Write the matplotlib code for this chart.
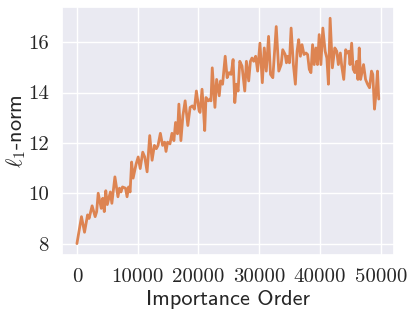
import matplotlib
matplotlib.use("Agg")
import matplotlib.pyplot as plt
import seaborn as sns

# importance order (x) and l1-norm (y)
order = [0, 750, 1250, 1750, 2000, 2500, 3000, 3250, 3500, 4000, 4250, 4500,
         4750, 5000, 5500, 5750, 6250, 6750, 7000, 7250, 7500, 8000, 8250,
         8500, 8750, 9000, 9250, 9750,
         10080, 10410, 10830, 11160, 11550, 11980, 12370, 12750, 13070, 13350,
         13730, 14100, 14430, 14660, 14920, 15310, 15640, 15960, 16230, 16550,
         16780, 17110, 17440, 17810, 18250, 18630, 19000, 19330, 19660, 20100,
         20260, 20590, 20800, 21030, 21240, 21620, 21900, 22060, 22270, 22710,
         22990, 23420, 23640, 23970, 24400, 24720, 25050, 25380, 25700, 25980,
         26260, 26520, 26800, 27170, 27620, 27890, 28270, 28550, 28810, 29090,
         29410, 29740, 30120, 30510, 30830,
         31160, 31540, 31860, 32240, 32800, 33220, 33610, 33870, 34270, 34480,
         34690, 34970, 35250, 35620, 35950, 36230, 36490, 36770, 37040, 37370,
         37700, 37960, 38240, 38510, 38780, 39050, 39330, 39590, 39870, 40150,
         40470, 40850, 41130, 41390, 41670,
         42040, 42440, 42760, 43020, 43350, 43580, 43910, 44230, 44490, 44770,
         44940, 45210, 45470, 45750, 46030, 46240, 46460, 46680, 46950, 47170,
         47500, 47830, 48150, 48480, 48690, 48970, 49230, 49460, 49670]

l1_norm = [8.0, 9.07, 8.45, 9.14, 9.0, 9.5, 9.07, 9.27, 10.0, 9.4, 9.8, 9.27,
           10.1, 9.55, 10.05, 9.6, 10.65, 9.86, 10.2, 10.05, 10.25, 10.2, 9.86,
           10.25, 10.05, 11.24, 10.6, 11.17,
           11.44, 10.98, 11.63, 11.44, 10.85, 12.29, 11.31, 11.9, 11.77, 11.9,
           12.38, 11.9, 12.03, 11.66, 12.03, 11.96, 12.38, 12.09, 12.81, 12.36,
           13.54, 12.09, 13.08, 13.67, 12.69, 13.41, 13.47, 13.34, 14.06, 13.28,
           13.21, 14.13, 13.41, 12.49, 13.8, 13.67, 13.74, 13.67, 14.98, 13.41,
           14.52, 13.87, 14.46, 14.33, 15.44, 14.59, 14.79, 14.72, 15.31, 13.6,
           14.33, 14.06, 15.24, 15.05, 14.06, 15.24, 14.46, 15.24, 15.37, 15.24,
           15.44, 14.85, 15.96, 14.39, 15.77,
           14.85, 16.23, 14.72, 14.59, 16.62, 14.85, 15.11, 15.7, 15.51, 15.18,
           15.44, 15.18, 16.56, 15.11, 14.33, 15.64, 16.1, 15.44, 15.9, 15.51,
           15.57, 15.51, 14.92, 14.79, 15.9, 15.11, 15.77, 15.11, 16.3, 15.11,
           16.56, 15.64, 15.37, 14.33, 16.95,
           14.98, 15.77, 15.64, 15.11, 15.57, 15.05, 14.52, 15.7, 15.57, 15.64,
           15.11, 15.96, 14.92, 14.79, 15.24, 14.52, 15.77, 14.52, 14.85, 15.11,
           14.52, 14.33, 14.19, 14.85, 14.72, 13.34, 14.0, 14.85, 13.74]

xticks = [0, 10000, 20000, 30000, 40000, 50000]
yticks = [8, 10, 12, 14, 16]

sns.set_theme(style="darkgrid")
plt.rcParams['mathtext.fontset'] = 'cm'
plt.rcParams['axes.unicode_minus'] = False

fig, ax = plt.subplots(figsize=(4.15, 3.17), dpi=100)
fig.subplots_adjust(left=0.149, right=0.949, top=0.978, bottom=0.196)

ax.plot(order, l1_norm, color="#DD8452", lw=2)

ax.set_xticks(xticks)
ax.set_yticks(yticks)
ax.set_xticklabels([str(t) for t in xticks], fontfamily="cmr10", fontsize=15)
ax.set_yticklabels([str(t) for t in yticks], fontfamily="cmr10", fontsize=15)
ax.set_xlabel("Importance Order", fontfamily="cmss10", fontsize=16, labelpad=3)
ax.set_ylabel(r"$\ell_1$-norm", fontfamily="cmss10", fontsize=16, labelpad=0)

fig.savefig("out.png", dpi=100)
